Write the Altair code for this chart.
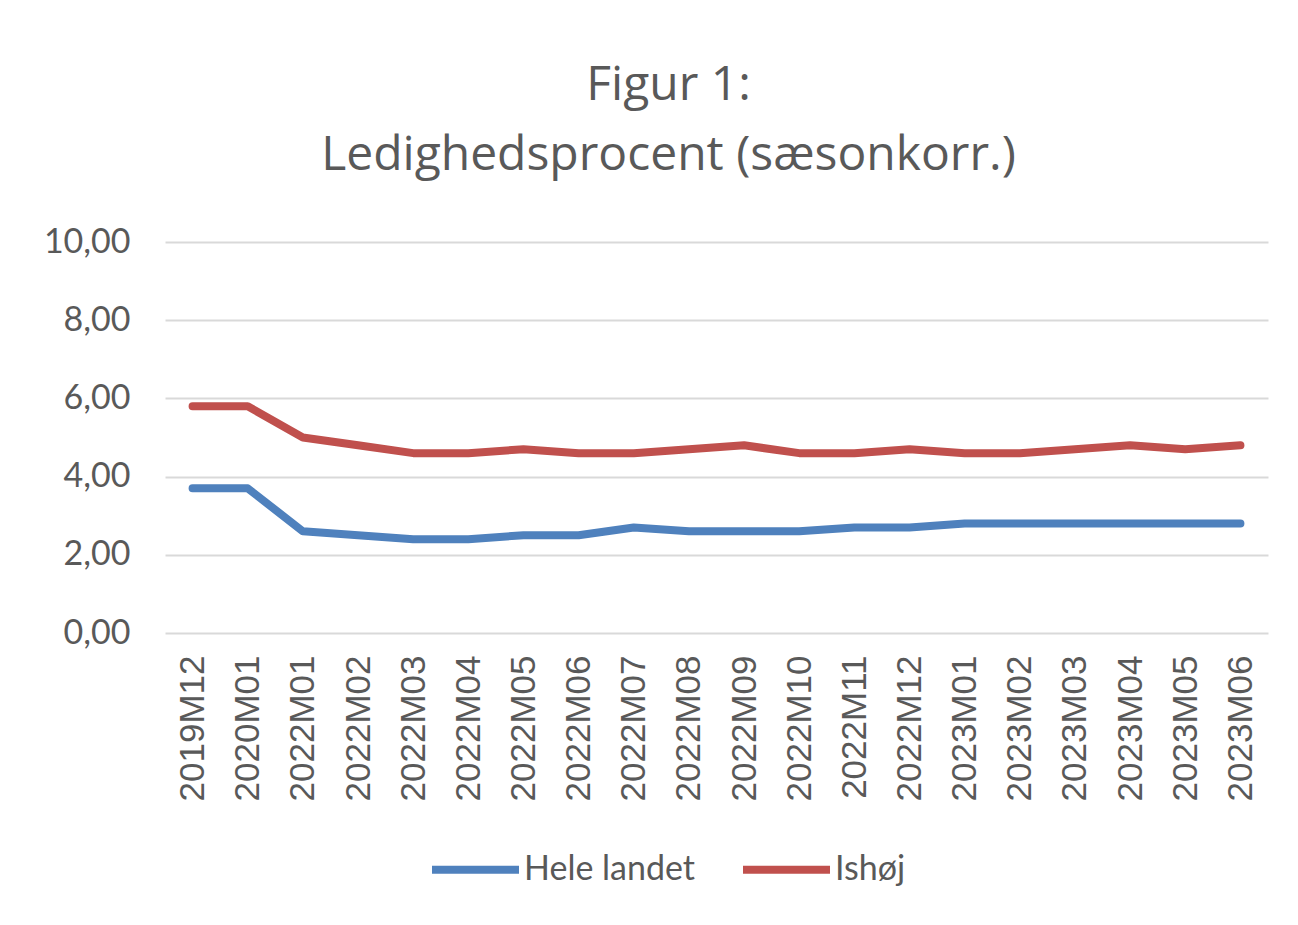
import altair as alt
import pandas as pd

periods = ["2019M12", "2020M01", "2022M01", "2022M02", "2022M03", "2022M04", "2022M05",
           "2022M06", "2022M07", "2022M08", "2022M09", "2022M10", "2022M11", "2022M12",
           "2023M01", "2023M02", "2023M03", "2023M04", "2023M05", "2023M06"]
hele_landet = [3.7, 3.7, 2.6, 2.5, 2.4, 2.4, 2.5, 2.5, 2.7, 2.6, 2.6, 2.6, 2.7, 2.7,
               2.8, 2.8, 2.8, 2.8, 2.8, 2.8]
ishoj = [5.8, 5.8, 5.0, 4.8, 4.6, 4.6, 4.7, 4.6, 4.6, 4.7, 4.8, 4.6, 4.6, 4.7,
         4.6, 4.6, 4.7, 4.8, 4.7, 4.8]
series_names = ["Hele landet", "Ishøj"]
series_colors = ["#4f81bd", "#c0504d"]
y_ticks = [0, 2, 4, 6, 8, 10]

rows = []
for name, vals in zip(series_names, [hele_landet, ishoj]):
    for i, (p, v) in enumerate(zip(periods, vals)):
        rows.append({"periode": p, "serie": name, "værdi": v, "order": i})
df = pd.DataFrame(rows)

TEXT = "#595959"

chart = alt.Chart(df).mark_line(strokeWidth=8, strokeCap="round", strokeJoin="round").encode(
    x=alt.X("periode:N", sort=periods, title=None,
            scale=alt.Scale(type="point", padding=0.5),
            axis=alt.Axis(labelAngle=270, labelAlign="right", labelBaseline="middle",
                          labelPadding=22, labelFont="Liberation Sans", labelFontSize=35,
                          labelColor=TEXT, ticks=False, domain=False, grid=False)),
    y=alt.Y("værdi:Q", title=None,
            scale=alt.Scale(domain=[0, 10], nice=False, zero=True),
            axis=alt.Axis(values=y_ticks, labelExpr="replace(format(datum.value, '.2f'), '.', ',')",
                          labelFont="Lato", labelFontSize=34, labelColor=TEXT, labelPadding=35,
                          ticks=False, domain=False, grid=True, gridColor="#d9d9d9",
                          gridWidth=2)),
    color=alt.Color("serie:N", sort=series_names,
                    scale=alt.Scale(domain=series_names, range=series_colors),
                    legend=alt.Legend(title=None, orient="none", direction="horizontal",
                                      legendX=263, legendY=580, labelLimit=400,
                                      symbolType="stroke", symbolSize=7569,
                                      symbolStrokeWidth=8, labelFont="Lato",
                                      labelFontSize=34, labelColor=TEXT, labelOffset=1,
                                      columnPadding=31)),
    order="order:Q",
).properties(
    width=1103,
    height=391,
    title=alt.TitleParams(text=["Figur 1:", "Ledighedsprocent (sæsonkorr.)"],
                          font="Open Sans", fontSize=48, fontWeight="normal", color=TEXT,
                          anchor="middle", frame="group", dx=-48, offset=45,
                          lineHeight=70),
    padding={"left": 157, "top": 234, "right": 14, "bottom": 268},
    autosize=alt.AutoSizeParams(type="none"),
).configure_view(stroke=None)

chart.save("out.html", embed_options={"renderer": "svg", "actions": False})
